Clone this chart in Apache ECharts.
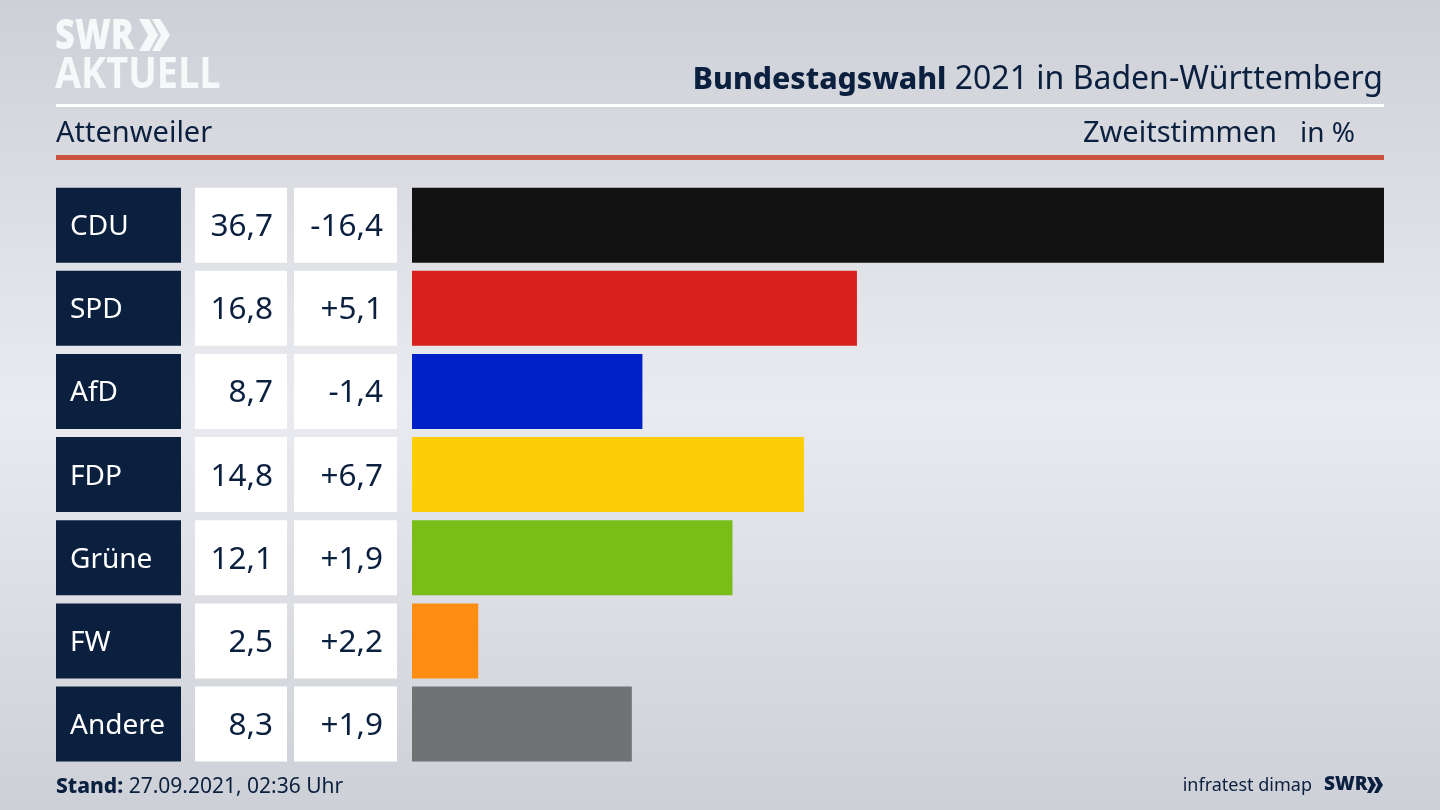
<!DOCTYPE html>
<html>
<head>
<meta charset="utf-8">
<style>html,body{margin:0;padding:0;background:#d8dade}#chart{width:1440px;height:810px}</style>
<script src="https://cdn.jsdelivr.net/npm/echarts@6/dist/echarts.min.js"></script>
</head>
<body>
<div id="chart"></div>
<script>
// Zweitstimmen Attenweiler
var parties = ['CDU', 'SPD', 'AfD', 'FDP', 'Grüne', 'FW', 'Andere'];
var shares = [36.7, 16.8, 8.7, 14.8, 12.1, 2.5, 8.3];
var changes = ['-16,4', '+5,1', '-1,4', '+6,7', '+1,9', '+2,2', '+1,9'];
var barColors = ['#121212', '#d9201c', '#0021c8', '#ffcd08', '#79bd18', '#ff8d12', '#717274'];

var NAVY = '#0b1f3f';
var FONT = '"Noto Sans", sans-serif';
var chart = echarts.init(document.getElementById('chart'));

function shareLabel(v) {
  return v.toFixed(1).replace('.', ',');
}

// zellen links neben den balken, y kommt von der kategorie-achse
function cellSeries(left, width, fill, color, align, fontSize, textOf) {
  return {
    type: 'custom',
    silent: true,
    data: parties.map(function (p, i) { return [0, i]; }),
    encode: { x: 0, y: 1 },
    clip: false,
    renderItem: function (params, api) {
      var i = api.value(1);
      var cy = api.coord([0, i])[1];
      return {
        type: 'group',
        children: [{
          type: 'rect',
          shape: { x: left, y: cy - 37.5, width: width, height: 75 },
          style: { fill: fill }
        }, {
          type: 'text',
          style: {
            x: align === 'left' ? left + 14 : left + width - 14,
            y: cy + 2,
            text: textOf(i),
            fill: color,
            font: fontSize + 'px ' + FONT,
            align: align,
            verticalAlign: 'middle'
          }
        }]
      };
    }
  };
}

var option = {
  animation: false,
  backgroundColor: new echarts.graphic.LinearGradient(0, 0, 0, 1, [
    { offset: 0, color: '#cdd0d6' },
    { offset: 0.5, color: '#eaebf0' },
    { offset: 1, color: '#cdd0d6' }
  ]),
  grid: { left: 412, top: 183.6, width: 972, height: 582 },
  xAxis: { type: 'value', min: 0, max: 36.7, show: false },
  yAxis: { type: 'category', data: parties, inverse: true, show: false },
  series: [{
    type: 'bar',
    barWidth: 75,
    silent: true,
    data: shares.map(function (v, i) {
      return { value: v, itemStyle: { color: barColors[i] } };
    })
  },
  cellSeries(56, 125, NAVY, '#ffffff', 'left', 28, function (i) { return parties[i]; }),
  cellSeries(195, 92, '#ffffff', NAVY, 'right', 31.5, function (i) { return shareLabel(shares[i]); }),
  cellSeries(294, 103, '#ffffff', NAVY, 'right', 31.5, function (i) { return changes[i]; })
  ],
  graphic: [
    { type: 'rect', shape: { x: 56, y: 104, width: 1328, height: 3 }, style: { fill: '#ffffff' } },
    { type: 'rect', shape: { x: 56, y: 155, width: 1328, height: 5 }, style: { fill: '#c9533f' } },
    // logo
    { type: 'text', x: 55, y: 37.5, scaleX: 0.82, style: { x: 0, y: 0, text: 'SWR', fill: '#f7f8f9', font: '900 42px "Open Sans", sans-serif', verticalAlign: 'middle', align: 'left' } },
    { type: 'polygon', shape: { points: [[139, 19], [149, 19], [158, 35], [149, 51], [139, 51], [148, 35]] }, style: { fill: '#f7f8f9' } },
    { type: 'polygon', shape: { points: [[152, 19], [160, 19], [170, 35], [160, 51], [152, 51], [161, 35]] }, style: { fill: '#f7f8f9' } },
    { type: 'text', x: 55, y: 75.5, scaleX: 0.88, style: { x: 0, y: 0, text: 'AKTUELL', fill: '#f7f8f9', font: '700 43px "Open Sans", sans-serif', verticalAlign: 'middle', align: 'left' } },
    // kopfzeile
    { type: 'text', style: { x: 1383, y: 80, align: 'right', verticalAlign: 'middle', text: '{b|Bundestagswahl} 2021 in Baden-Württemberg', fill: NAVY, font: '32px ' + FONT,
      rich: { b: { font: '800 30.2px ' + FONT, fill: NAVY } } } },
    { type: 'text', style: { x: 56, y: 134, align: 'left', verticalAlign: 'middle', text: 'Attenweiler', fill: NAVY, font: '29px ' + FONT } },
    { type: 'text', style: { x: 1277, y: 134, align: 'right', verticalAlign: 'middle', text: 'Zweitstimmen', fill: NAVY, font: '29px ' + FONT } },
    { type: 'text', style: { x: 1355, y: 134, align: 'right', verticalAlign: 'middle', text: 'in %', fill: NAVY, font: '28px ' + FONT } },
    // fusszeile
    { type: 'text', style: { x: 56, y: 787, align: 'left', verticalAlign: 'middle', text: '{b|Stand:} 27.09.2021, 02:36 Uhr', fill: NAVY, font: '21px ' + FONT,
      rich: { b: { font: '800 21px ' + FONT, fill: NAVY } } } },
    { type: 'text', style: { x: 1312, y: 786, align: 'right', verticalAlign: 'middle', text: 'infratest dimap', fill: NAVY, font: '18px ' + FONT } },
    { type: 'text', style: { x: 1324, y: 785, align: 'left', verticalAlign: 'middle', text: 'SWR', fill: NAVY, font: '900 19px "Open Sans", sans-serif' } },
    { type: 'polygon', shape: { points: [[1367, 777], [1371, 777], [1376, 785], [1371, 793], [1367, 793], [1371, 785]] }, style: { fill: NAVY } },
    { type: 'polygon', shape: { points: [[1374, 777], [1378, 777], [1383, 785], [1378, 793], [1374, 793], [1378, 785]] }, style: { fill: NAVY } }
  ]
};
chart.setOption(option);
</script>
</body>
</html>
